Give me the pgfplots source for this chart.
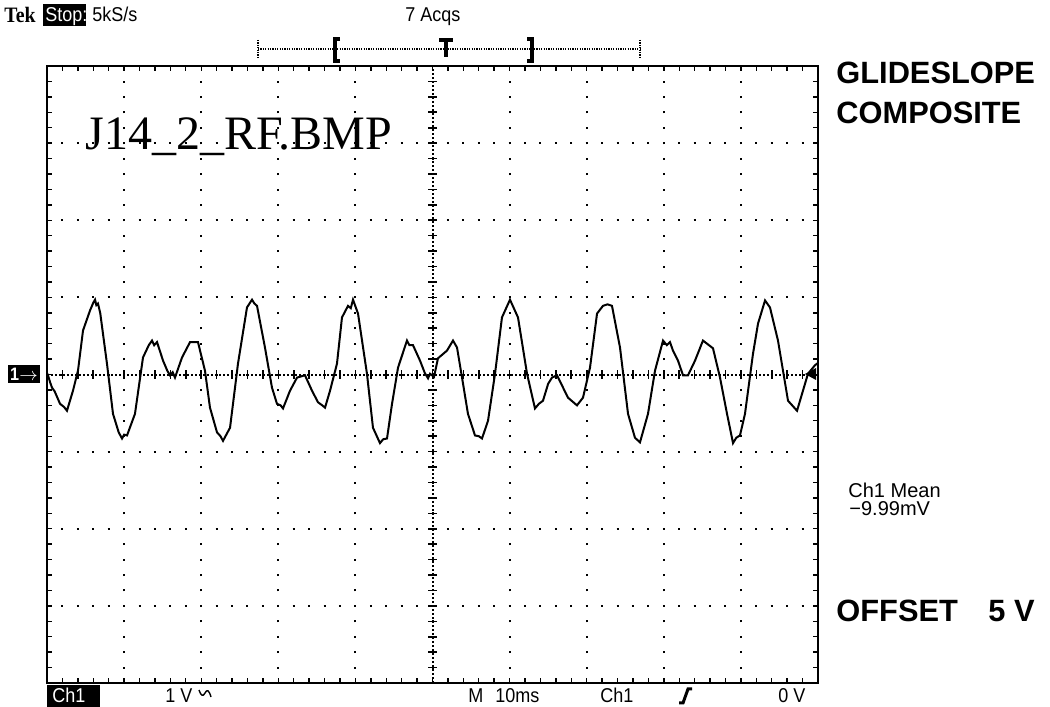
\documentclass[border=0pt]{standalone}
\usepackage{pgfplots}
\pgfplotsset{compat=1.18}
\usepackage{fontspec}
\setmainfont{Liberation Sans}
\newfontfamily\scopefont[FakeStretch=0.9]{Liberation Sans}
\newfontfamily\tekfont[FakeStretch=0.9]{Liberation Serif}
\newfontfamily\seriffont{Liberation Serif}
\begin{document}
\begin{tikzpicture}
\useasboundingbox (0,0) rectangle (525pt,353.5pt);
\begin{axis}[
  at={(23.5pt,12pt)}, anchor=south west,
  scale only axis, width=385.5pt, height=308.5pt,
  xmin=0, xmax=100, ymin=-4, ymax=4,
  axis line style={line width=1.2pt},
  xtick={0,10,...,100}, ytick={-4,-3,...,4},
  minor x tick num=4, minor y tick num=4,
  xticklabels={}, yticklabels={},
  tick align=inside, tick pos=both,
  major tick length=2.5pt, minor tick length=2.5pt,
  every tick/.style={black, line width=0.7pt},
  grid=major,
  major grid style={black, line width=1pt, dash pattern=on 1pt off 6.71pt, dash phase=0.5pt},
  clip=false,
]
% centre lines of the graticule
\draw[black, line width=1pt, dash pattern=on 1pt off 1pt] (axis cs:0,0) -- (axis cs:100,0);
\draw[black, line width=1pt, dash pattern=on 1pt off 1pt] (axis cs:50,-4) -- (axis cs:50,4);
\pgfplotsinvokeforeach{2,4,...,98}{\draw[black, line width=0.8pt] (axis cs:#1,0) ++(0pt,-2.2pt) -- ++(0pt,4.4pt);}
\pgfplotsinvokeforeach{-3.8,-3.6,...,3.9}{\draw[black, line width=0.8pt] (axis cs:50,#1) ++(-2.2pt,0pt) -- ++(4.4pt,0pt);}
\addplot[black, line width=1pt, sharp plot] coordinates {
(0.0,0.02) (0.13,-0.01) (0.4,-0.10) (0.65,-0.17) (1.0,-0.22) (1.69,-0.38) (2.2,-0.42) (2.59,-0.47) (3.37,-0.21)
(4.02,0.05) (4.67,0.57) (5.58,0.83) (6.0,0.93) (6.23,0.97) (6.4,0.90) (6.61,0.92) (6.9,0.80)
(7.78,0.14) (8.56,-0.51) (9.3,-0.75) (9.73,-0.83) (10.0,-0.78) (10.38,-0.79) (11.41,-0.51)
(12.45,0.22) (13.2,0.38) (13.62,0.44) (13.9,0.38) (14.27,0.42) (15.05,0.18) (15.6,0.05)
(15.95,-0.01) (16.3,0.03) (16.60,-0.04) (17.51,0.22) (18.55,0.42) (19.58,0.42) (20.49,0.05)
(21.14,-0.43) (22.05,-0.75) (22.5,-0.80) (22.83,-0.86) (23.74,-0.69) (24.77,0.14) (25.94,0.87)
(26.59,0.97) (26.9,0.92) (27.24,0.89) (28.27,0.35) (29.18,-0.17) (29.83,-0.38) (30.3,-0.40)
(30.61,-0.44) (31.52,-0.21) (32.43,-0.04) (33.46,-0.01) (34.37,-0.21) (35.15,-0.36) (35.7,-0.40)
(36.06,-0.43) (36.71,-0.21) (37.61,0.14) (38.26,0.74) (39.04,0.89) (39.4,0.86) (39.69,0.97)
(40.34,0.79) (41.50,0.01) (42.28,-0.69) (43.19,-0.89) (43.6,-0.84) (44.10,-0.83) (44.75,-0.38)
(45.53,0.09) (46.69,0.44) (47.0,0.38) (47.47,0.38) (48.38,0.18) (49.0,0.02) (49.42,-0.05)
(49.68,0.01) (50.2,-0.03) (50.71,0.21) (51.88,0.31) (52.66,0.44) (53.18,0.35) (53.83,-0.04)
(54.60,-0.51) (55.51,-0.79) (56.0,-0.80) (56.42,-0.83) (57.20,-0.60) (58.11,0.01) (59.01,0.74)
(60.05,0.97) (61.09,0.74) (62.26,0.01) (63.29,-0.44) (63.8,-0.38) (64.33,-0.34) (65.0,-0.12)
(65.50,-0.04) (66.15,-0.01) (67.57,-0.30) (68.74,-0.40) (69.52,-0.30) (70.43,0.09) (71.34,0.79)
(72.11,0.89) (72.7,0.91) (73.28,0.89) (74.32,0.35) (75.36,-0.51) (76.26,-0.82) (76.91,-0.88)
(77.95,-0.51) (78.86,0.05) (79.90,0.44) (80.4,0.38) (80.80,0.42) (81.19,0.31) (81.84,0.18)
(82.49,-0.01) (83.14,-0.01) (84.05,0.18) (85.08,0.44) (86.38,0.34) (87.29,-0.04) (88.20,-0.51)
(88.98,-0.89) (89.4,-0.82) (89.88,-0.79) (90.53,-0.51) (91.57,0.27) (92.22,0.66) (93.13,0.96)
(93.77,0.87) (94.81,0.44) (95.46,0.05) (96.11,-0.34) (97.28,-0.47) (98.05,-0.21) (98.70,0.01)
(99.61,0.12) (100,0.15)
};
\end{axis}
\begin{scope}[x=0.5pt, y=-0.5pt, yshift=353.5pt]
% header
\node[anchor=base west, inner sep=0pt, font=\tekfont\bfseries\fontsize{11pt}{13pt}\selectfont] at (4,23) {Tek};
\fill (43,4) rectangle (86,26);
\node[anchor=base west, inner sep=0pt, text=white, font=\scopefont\fontsize{10pt}{12pt}\selectfont] at (45,22) {Stop:};
\node[anchor=base west, inner sep=0pt, font=\scopefont\fontsize{10pt}{12pt}\selectfont] at (92,22) {5kS/s};
\node[anchor=base west, inner sep=0pt, font=\scopefont\fontsize{10pt}{12pt}\selectfont] at (405,22) {7 Acqs};
% trigger position bar
\draw[line width=0.8pt, dash pattern=on 0.6pt off 0.6pt] (258,49) -- (640,49);
\draw[line width=0.8pt, dash pattern=on 0.6pt off 0.6pt] (258,40) -- (258,58);
\draw[line width=0.8pt, dash pattern=on 0.6pt off 0.6pt] (640,40) -- (640,58);
\draw[line width=1.8pt] (340,39) -- (335,39) -- (335,61) -- (340,61);
\draw[line width=1.8pt] (527,39) -- (532,39) -- (532,61) -- (527,61);
\draw[line width=1.6pt] (439,40) -- (453,40);
\draw[line width=2pt] (446,40) -- (446,57);
% file label
\node[anchor=base west, inner sep=0pt, font=\seriffont\fontsize{24pt}{28pt}\selectfont] at (85,150) {J14\_2\_RF.BMP};
% channel marker
\node[anchor=center, fill=black, text=white, inner sep=1pt, minimum height=9pt, font=\scopefont\bfseries\fontsize{9pt}{10pt}\selectfont] at (24,374) {1$\rightarrow$};
% trigger level arrow
\fill (805,374) -- (816,368) -- (816,380) -- cycle;
% right side texts
\node[anchor=base west, inner sep=0pt, font=\bfseries\fontsize{15.4pt}{18pt}\selectfont] at (836,84) {GLIDESLOPE};
\node[anchor=base west, inner sep=0pt, font=\bfseries\fontsize{15.4pt}{18pt}\selectfont] at (836,124) {COMPOSITE};
\node[anchor=base west, inner sep=0pt, font=\fontsize{10pt}{12pt}\selectfont] at (848,498) {Ch1 Mean};
\node[anchor=base west, inner sep=0pt, font=\fontsize{10pt}{12pt}\selectfont] at (849,516) {\symbol{"2212}9.99mV};
\node[anchor=base west, inner sep=0pt, font=\bfseries\fontsize{15.4pt}{18pt}\selectfont] at (836,622) {OFFSET};
\node[anchor=base west, inner sep=0pt, font=\bfseries\fontsize{15.4pt}{18pt}\selectfont] at (988,622) {5 V};
% status bar
\fill (47,685) rectangle (100,707);
\node[anchor=base west, inner sep=0pt, text=white, font=\scopefont\fontsize{10pt}{12pt}\selectfont] at (52,703) {Ch1};
\node[anchor=base west, inner sep=0pt, font=\scopefont\fontsize{10pt}{12pt}\selectfont] at (165,703) {1 V};
\draw[line width=0.7pt] (199,690) .. controls (201,696) and (203,697) .. (205,693) .. controls (207,689) and (209,690) .. (211,697);
\node[anchor=base west, inner sep=0pt, font=\scopefont\fontsize{10pt}{12pt}\selectfont] at (468,703) {M};
\node[anchor=base west, inner sep=0pt, font=\scopefont\fontsize{10pt}{12pt}\selectfont] at (495,703) {10ms};
\node[anchor=base west, inner sep=0pt, font=\scopefont\fontsize{10pt}{12pt}\selectfont] at (600,703) {Ch1};
\draw[line width=1.5pt] (679,703) -- (683,703) -- (688,689) -- (692,689);
\node[anchor=base west, inner sep=0pt, font=\scopefont\fontsize{10pt}{12pt}\selectfont] at (778,703) {0 V};
\end{scope}
\end{tikzpicture}
\end{document}
